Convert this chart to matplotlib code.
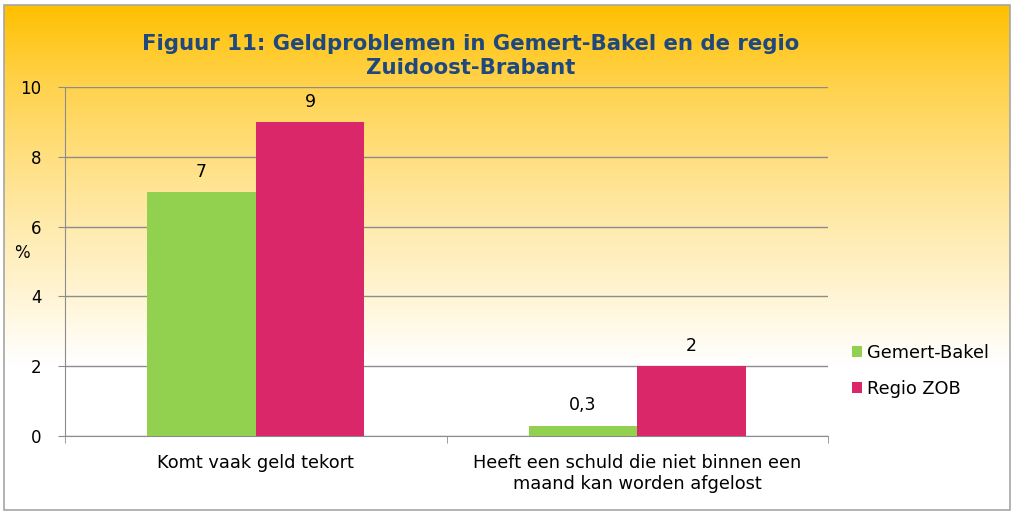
import numpy as np
import matplotlib.pyplot as plt
import matplotlib.ticker as ticker
from matplotlib.colors import LinearSegmentedColormap
from matplotlib.patches import Rectangle

# Gegevens
categories = ['Komt vaak geld tekort',
              'Heeft een schuld die niet binnen een\nmaand kan worden afgelost']
gemert_bakel = [7, 0.3]
regio_zob = [9, 2]
value_labels_gb = ['7', '0,3']
value_labels_zob = ['9', '2']
series_names = ['Gemert-Bakel', 'Regio ZOB']

green = '#92D050'
pink = '#DA2769'
grey = '#8C8C8C'

fig = plt.figure(figsize=(10.23, 5.2), dpi=100)

# Achtergrond met kleurverloop
x0, x1 = 4 / 1023, 1010 / 1023
y0, y1 = 1 - 510 / 520, 1 - 5 / 520
bg = fig.add_axes([x0, y0, x1 - x0, y1 - y0], zorder=0)
cmap = LinearSegmentedColormap.from_list(
    'bg', [(0.0, '#FFFFFF'), (0.29, '#FFFFFF'), (0.42, '#FFF5D6'),
           (0.56, '#FFEBAE'), (0.70, '#FFDF80'), (0.85, '#FFD24A'),
           (1.0, '#FFC000')])
grad = np.linspace(0, 1, 256).reshape(-1, 1)
bg.imshow(grad, aspect='auto', cmap=cmap, origin='lower', extent=[0, 1, 0, 1])
bg.set_xlim(0, 1)
bg.set_ylim(0, 1)
bg.axis('off')
fig.patches.append(Rectangle((x0, y0), x1 - x0, y1 - y0, transform=fig.transFigure,
                             fill=False, edgecolor='#A6A6A6', linewidth=1.2, zorder=10))

ax = fig.add_axes([65 / 1023, 1 - 436 / 520, (828 - 65) / 1023, (436 - 87) / 520], zorder=1)
ax.set_facecolor('none')

x = np.arange(len(categories))
w = 0.285
b1 = ax.bar(x - w / 2, gemert_bakel, w, color=green, label=series_names[0], zorder=3)
b2 = ax.bar(x + w / 2, regio_zob, w, color=pink, label=series_names[1], zorder=3)

for bars, labels in [(b1, value_labels_gb), (b2, value_labels_zob)]:
    for bar, lab in zip(bars, labels):
        ax.annotate(lab, (bar.get_x() + bar.get_width() / 2, bar.get_height()),
                    xytext=(0, 8), textcoords='offset points', ha='center', va='bottom',
                    fontsize=12.5, color='black')

ax.set_xlim(-0.5, 1.5)
ax.set_ylim(0, 10)
ax.yaxis.set_major_locator(ticker.MultipleLocator(2))
ax.grid(axis='y', color=grey, linewidth=1, zorder=0)
ax.set_axisbelow(True)

ax.set_xticks(x)
ax.set_xticklabels(categories, fontsize=12.8, linespacing=1.2)
ax.set_xticks([-0.5, 0.5, 1.5], minor=True)
ax.tick_params(axis='x', which='major', length=0, pad=13)
ax.tick_params(axis='x', which='minor', length=5, color=grey)
ax.tick_params(axis='y', length=5, color=grey, labelsize=12, pad=12)

for side in ['top', 'right']:
    ax.spines[side].set_visible(False)
for side in ['left', 'bottom']:
    ax.spines[side].set_color(grey)

fig.text(22 / 1023, 1 - 253 / 520, '%', fontsize=12, ha='center', va='center')

fig.text(471 / 1023, 1 - 56 / 520,
         'Figuur 11: Geldproblemen in Gemert-Bakel en de regio\nZuidoost-Brabant',
         fontsize=15.3, fontweight='bold', color='#1F497D', ha='center', va='center',
         linespacing=1.2)

ax.legend(loc='center left', bbox_to_anchor=(836 / 1023, 1 - 371 / 520),
          bbox_transform=fig.transFigure, frameon=False, fontsize=12.8,
          handlelength=0.55, handleheight=0.55, handletextpad=0.3, labelspacing=1.0)

fig.savefig('out.png', dpi=100)
